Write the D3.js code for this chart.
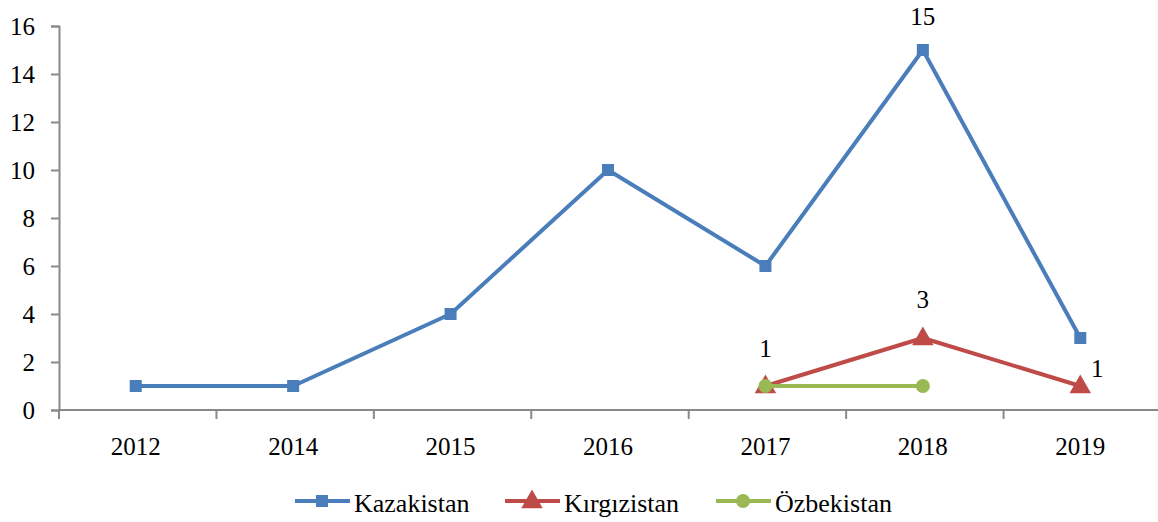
<!DOCTYPE html>
<html lang="en">
<head>
  <meta charset="utf-8">
  <title>Kazakistan / Kırgızistan / Özbekistan</title>
  <script src="https://d3js.org/d3.v7.min.js"></script>
  <style>
    body { margin: 0; background: #fff; }
    svg text { font-family: "Liberation Serif", "Times New Roman", serif; fill: #000; }
  </style>
</head>
<body>
  <div id="chart"></div>
  <script>
    var years = ["2012", "2014", "2015", "2016", "2017", "2018", "2019"];
    var kazakistan = [1, 1, 4, 10, 6, 15, 3];
    var kirgizistan = [null, null, null, null, 1, 3, 1];
    var ozbekistan = [null, null, null, null, 1, 1, null];
    var yTicks = [0, 2, 4, 6, 8, 10, 12, 14, 16];

    var width = 1158, height = 522;
    var serif = '"Liberation Serif", "Times New Roman", serif';

    var svg = d3.select("#chart").append("svg")
      .attr("width", width)
      .attr("height", height);

    var x = d3.scaleBand().domain(years).range([59, 1161]);
    var y = d3.scaleLinear().domain([0, 16]).range([410, 26]);

    var axisColor = "#898989";

    // y axis
    var yAxis = svg.append("g")
      .attr("transform", "translate(59,0)")
      .call(d3.axisLeft(y).tickValues(yTicks).tickSize(8).tickPadding(16));
    yAxis.select(".domain").attr("stroke", axisColor).attr("stroke-width", 2);
    yAxis.selectAll(".tick line").attr("stroke", axisColor).attr("stroke-width", 2);
    yAxis.selectAll(".tick text")
      .style("font-size", "25px")
      .style("font-family", serif)
      .attr("fill", "#000");

    // x axis
    var xAxisG = svg.append("g").attr("transform", "translate(0,410)");
    xAxisG.append("line")
      .attr("x1", 59).attr("x2", 1161)
      .attr("stroke", axisColor).attr("stroke-width", 2);
    xAxisG.selectAll(".xt")
      .data(years.concat(["end"]))
      .enter().append("line")
      .attr("x1", (d, i) => 59 + i * x.bandwidth())
      .attr("x2", (d, i) => 59 + i * x.bandwidth())
      .attr("y1", 0).attr("y2", 9)
      .attr("stroke", axisColor).attr("stroke-width", 2);
    xAxisG.selectAll(".xl")
      .data(years)
      .enter().append("text")
      .attr("x", d => x(d) + x.bandwidth() / 2 - 2)
      .attr("y", 45)
      .attr("text-anchor", "middle")
      .style("font-size", "25px")
      .style("font-family", serif)
      .text(d => d);

    var series = [
      { name: "Kazakistan", values: kazakistan, color: "#4a7ebb", marker: "square" },
      { name: "Kırgızistan", values: kirgizistan, color: "#be4b48", marker: "triangle" },
      { name: "Özbekistan", values: ozbekistan, color: "#98b954", marker: "circle" }
    ];

    var cx = d => x(d.year) + x.bandwidth() / 2 - 2;

    var line = d3.line()
      .defined(d => d.value != null)
      .x(cx)
      .y(d => y(d.value));

    function drawMarker(g, type, color, px, py) {
      if (type === "square") {
        g.append("rect").attr("x", px - 6).attr("y", py - 6)
          .attr("width", 12).attr("height", 12).attr("fill", color);
      } else if (type === "triangle") {
        g.append("path")
          .attr("d", d3.symbol().type(d3.symbolTriangle).size(200)())
          .attr("transform", "translate(" + px + "," + (py + 1) + ")")
          .attr("fill", color);
      } else {
        g.append("circle").attr("cx", px).attr("cy", py).attr("r", 7).attr("fill", color);
      }
    }

    series.forEach(s => {
      var pts = years.map((yr, i) => ({ year: yr, value: s.values[i] }));
      var g = svg.append("g");
      g.append("path")
        .datum(pts)
        .attr("d", line)
        .attr("fill", "none")
        .attr("stroke", s.color)
        .attr("stroke-width", 4)
        .attr("stroke-linejoin", "round");
      pts.filter(p => p.value != null).forEach(p => {
        drawMarker(g, s.marker, s.color, cx(p), y(p.value));
      });
    });

    // data labels
    var labels = [
      { year: "2018", value: kazakistan[5], dx: 0, dy: -25 },
      { year: "2018", value: kirgizistan[5], dx: 0, dy: -30 },
      { year: "2017", value: kirgizistan[4], dx: 0, dy: -29 },
      { year: "2019", value: kirgizistan[6], dx: 17, dy: -9 }
    ];
    svg.selectAll(".dl")
      .data(labels)
      .enter().append("text")
      .attr("x", d => cx(d) + d.dx)
      .attr("y", d => y(d.value) + d.dy)
      .attr("text-anchor", "middle")
      .style("font-size", "25px")
      .style("font-family", serif)
      .text(d => d.value);

    // legend
    var legendPos = [295, 505, 716];
    var legend = svg.append("g").attr("transform", "translate(0,501)");
    series.forEach((s, i) => {
      var lx = legendPos[i];
      legend.append("line")
        .attr("x1", lx).attr("x2", lx + 55)
        .attr("y1", 0).attr("y2", 0)
        .attr("stroke", s.color).attr("stroke-width", 4);
      drawMarker(legend, s.marker, s.color, lx + 27, 0);
      legend.append("text")
        .attr("x", lx + 59)
        .attr("y", 11)
        .style("font-size", "26px")
        .style("font-family", serif)
        .text(s.name);
    });
  </script>
</body>
</html>
